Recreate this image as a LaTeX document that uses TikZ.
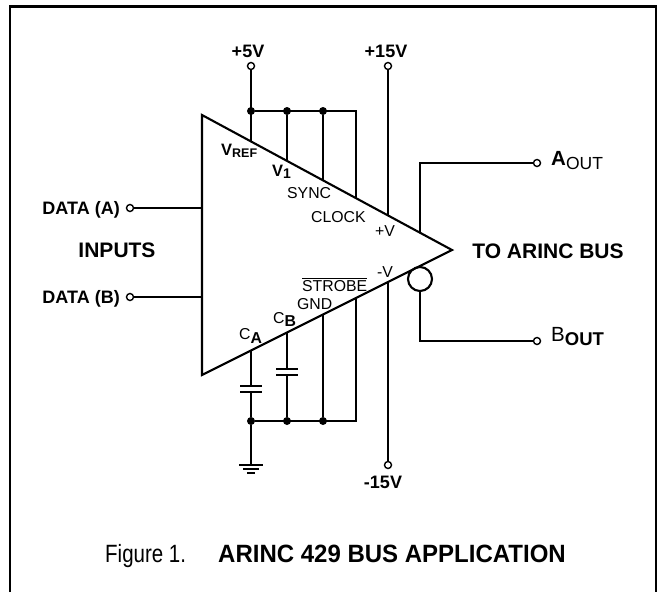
\documentclass[tikz,border=0pt]{standalone}
\usepackage{fontspec}
\setmainfont{Liberation Sans}
\usetikzlibrary{calc}

\newcommand{\fsz}[1]{\fontsize{#1}{#1}\selectfont}

\tikzset{
  wire/.style={line width=2.1pt},
  term/.style={circle,draw,fill=white,line width=1.4pt,inner sep=0pt,minimum size=7pt},
  junc/.style={circle,fill,inner sep=0pt,minimum size=8pt},
  pinlbl/.style={anchor=base west,inner sep=0pt,font=\fsz{15.8}},
  biglbl/.style={inner sep=0pt,font=\fsz{18}\bfseries},
}

\begin{document}
\begin{tikzpicture}[x=1pt, y=-1pt]
        \useasboundingbox (0,0) rectangle (658,592);
        % Frame (open at the bottom)
        \draw[line width=2.5pt] (10,592) -- (10,6.5) -- (656,6.5) -- (656,592);

        %! --- Line driver ---
        \coordinate (tl) at (202,115);
        \coordinate (bl) at (202,375);
        \coordinate (tip) at (452,250);
        \draw[wire] (tl) -- (tip) -- (bl) -- cycle;
        % Pins on the upper and lower edge
        \foreach \x/\n in {251/vref,287/vone,323/sync,356/clk,388/pv,420/aout} {
            \coordinate (\n) at (\x,{115+(\x-202)*0.54});
        }
        \foreach \x/\n in {251/ca,287/cb,323/gnd,356/strb,388/mv} {
            \coordinate (\n) at (\x,{375-(\x-202)*0.5});
        }

        % Supplies
        \node[term] (p5) at (251,66) {};
        \node[term] (p15) at (388,66) {};
        \node[biglbl,anchor=base] (p5l) at (248,57) {+5V};
        \node[biglbl,anchor=base] (p15l) at (386,57) {+15V};
        \node[junc] (j1) at (251,111) {};
        \node[junc] (j2) at (287,111) {};
        \node[junc] (j3) at (323,111) {};
        \draw[wire] (p5) -- (vref);
        \draw[wire] (j1) -| (clk);
        \draw[wire] (j2) -- (vone);
        \draw[wire] (j3) -- (sync);
        \draw[wire] (p15) -- (pv);

        % Pin labels
        \node[anchor=base west,inner sep=0pt] (vrefl) at (221,155) {\fsz{16.5}\bfseries V\raisebox{-2.5pt}{\fsz{12.5}REF}};
        \node[anchor=base west,inner sep=0pt] (vonel) at (272,176) {\fsz{16.5}\bfseries V\raisebox{-2pt}{\fsz{14}1}};
        \node[pinlbl] (syncl) at (287,198) {SYNC};
        \node[pinlbl] (clkl) at (311,222) {CLOCK};
        \node[pinlbl] (pvl) at (375,236) {+V};
        \node[pinlbl] (mvl) at (377,277) {-V};
        \node[pinlbl] (strbl) at (302,291) {$\overline{\mbox{STROBE}}$};
        \node[pinlbl] (gndl) at (297,309) {GND};
        \node[pinlbl] (cbl) at (273,323) {C\raisebox{-3.5pt}{\bfseries B}};
        \node[pinlbl] (cal) at (239,339) {C\raisebox{-4pt}{\bfseries A}};

        % Capacitors and ground
        \node[junc] (k1) at (251,421) {};
        \node[junc] (k2) at (287,421) {};
        \node[junc] (k3) at (323,421) {};
        \foreach \x/\y/\n/\k in {251/386/ca/k1,287/369/cb/k2} {
            \draw[wire] (\n) -- (\x,\y);
            \draw[wire] (\x-11,\y) -- (\x+11,\y);
            \draw[wire] (\x-11,\y+6) -- (\x+11,\y+6);
            \draw[wire] (\x,\y+6) -- (\k);
        }
        \draw[wire] (gnd) -- (k3);
        \draw[wire] (strb) |- (k1);
        \coordinate (earth) at (251,465);
        \draw[wire] (k1) -- (earth);
        \foreach \i/\w in {0/12,4/8,8/4} {
            \draw[wire] (251-\w,465+\i) -- (251+\w,465+\i);
        }

        % Negative supply
        \node[term] (m15) at (388,465) {};
        \node[biglbl,anchor=base] (m15l) at (383,488) {-15V};
        \draw[wire] (mv) -- (m15);

        % Inputs
        \node[term] (da) at (130,208) {};
        \node[term] (db) at (130,297) {};
        \draw[wire] (da) -- (da -| tl);
        \draw[wire] (db) -- (db -| tl);
        \node[biglbl,anchor=base east] (dal) at (120,214) {DATA (A)};
        \node[biglbl,anchor=base east] (dbl) at (120,303) {DATA (B)};
        \node[inner sep=0pt,anchor=base,font=\fsz{21}\bfseries] (inl) at (117,257) {INPUTS};

        % Outputs
        \node[circle,draw,wire,inner sep=0pt,minimum size=24pt] (bub) at (420,279) {};
        \node[term] (ao) at (537,163) {};
        \node[term] (bo) at (537,341) {};
        \draw[wire] (aout) |- (ao);
        \draw[wire] (bub.south) |- (bo);
        \node[anchor=base west,inner sep=0pt] (aol) at (551,165) {\fsz{20.5}\bfseries A\raisebox{-4pt}{\fsz{17.5}\mdseries OUT}};
        \node[anchor=base west,inner sep=0pt] (bol) at (551,341) {\fsz{20.5}B\raisebox{-4pt}{\fsz{18.5}\bfseries OUT}};
        \node[inner sep=0pt,anchor=base,font=\fsz{21}\bfseries] (busl) at (548,258) {TO ARINC BUS};

        % Caption
        \node[anchor=base west,inner sep=0pt] (figl) at (105,562) {\scalebox{0.82}[1]{\fsz{25}Figure 1.}};
        \node[anchor=base west,inner sep=0pt] (figt) at (218,562) {\scalebox{0.96}[1]{\fsz{25}\bfseries ARINC 429 BUS APPLICATION}};
    \end{tikzpicture}
\end{document}
